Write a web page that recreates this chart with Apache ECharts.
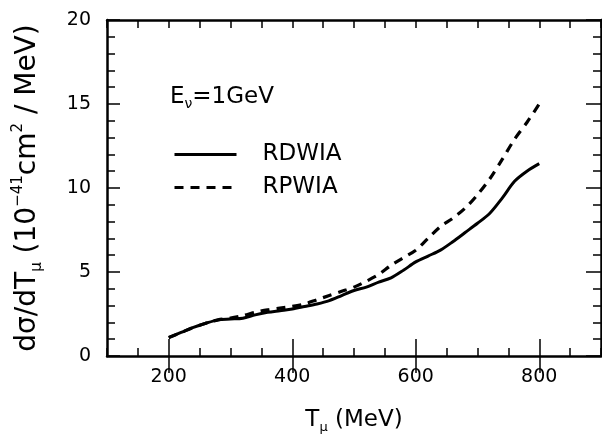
<!DOCTYPE html>
<html>
<head>
<meta charset="utf-8">
<script src="https://cdn.jsdelivr.net/npm/echarts@6/dist/echarts.min.js"></script>
<style>
  html, body { margin: 0; padding: 0; background: #fff; }
  #chart { width: 602px; height: 446px; }
</style>
</head>
<body>
<div id="chart"></div>
<script>
// Muon kinetic energy grid (MeV)
const tMu = [200, 220, 240, 260, 280, 300, 320, 340, 360, 380, 400, 420, 440, 460, 480, 500,
             520, 540, 560, 580, 600, 620, 640, 660, 680, 700, 720, 740, 760, 780, 800];
// dσ/dTμ in units of 1e-41 cm^2 / MeV
const rdwia = [1.1, 1.4, 1.7, 1.95, 2.15, 2.2, 2.25, 2.45, 2.6, 2.7, 2.8, 2.95, 3.1, 3.3, 3.6, 3.9,
               4.1, 4.4, 4.65, 5.1, 5.6, 5.95, 6.3, 6.8, 7.35, 7.9, 8.5, 9.4, 10.4, 11.0, 11.45];
const rpwia = [1.1, 1.4, 1.7, 1.95, 2.15, 2.25, 2.4, 2.6, 2.75, 2.85, 2.95, 3.1, 3.35, 3.6, 3.85, 4.1,
               4.45, 4.85, 5.4, 5.85, 6.3, 7.0, 7.7, 8.2, 8.8, 9.6, 10.55, 11.7, 12.9, 13.9, 15.0];
const xMajorTicks = [200, 400, 600, 800];
const yMajorTicks = [0, 5, 10, 15, 20];

const FONT = 'DejaVu Sans';
const INK = '#000';

function frameAxis(extra) {
  return Object.assign({
    type: 'value',
    axisLine: { show: true, onZero: false, lineStyle: { color: INK, width: 2.5 } },
    axisTick: { show: true, inside: true, length: 8, lineStyle: { color: INK, width: 1.5 } },
    axisLabel: { show: false },
    splitLine: { show: false }
  }, extra);
}

const chart = echarts.init(document.getElementById('chart'), null, { renderer: 'canvas' });

chart.setOption({
  backgroundColor: '#fff',
  animation: false,
  grid: { left: 107, right: 1, top: 20, bottom: 90, containLabel: false },
  xAxis: [
    frameAxis({ position: 'bottom', min: 100, max: 900, interval: 50 }),
    frameAxis({
      position: 'bottom', min: 100, max: 900,
      axisLine: { show: false },
      axisTick: { show: true, inside: true, length: 17, customValues: xMajorTicks,
                  lineStyle: { color: INK, width: 1.5 } },
      axisLabel: { show: true, customValues: xMajorTicks, margin: 12,
                   fontFamily: FONT, fontSize: 19, color: INK },
      name: '{m|T}{s|μ}{m| (MeV)}',
      nameLocation: 'middle',
      nameGap: 50,
      nameTextStyle: {
        rich: {
          m: { fontFamily: FONT, fontSize: 23, color: INK, lineHeight: 28 },
          s: { fontFamily: FONT, fontSize: 13, color: INK, verticalAlign: 'bottom', lineHeight: 28 }
        }
      }
    }),
    frameAxis({ position: 'top', min: 100, max: 900, interval: 50 }),
    frameAxis({
      position: 'top', min: 100, max: 900,
      axisLine: { show: false },
      axisTick: { show: true, inside: true, length: 17, customValues: xMajorTicks,
                  lineStyle: { color: INK, width: 1.5 } }
    })
  ],
  yAxis: [
    frameAxis({ position: 'left', min: 0, max: 20, interval: 1 }),
    frameAxis({
      position: 'left', min: 0, max: 20, interval: 5,
      axisLine: { show: false },
      axisTick: { show: true, inside: true, length: 13, lineStyle: { color: INK, width: 1.5 } },
      axisLabel: { show: true, customValues: yMajorTicks, margin: 16,
                   fontFamily: FONT, fontSize: 19, color: INK },
      name: '{m|dσ/dT}{s|μ}{m| (10}{p|−41}{m|cm}{p|2}{m| / MeV)}',
      nameLocation: 'middle',
      nameRotate: 90,
      nameGap: 62,
      nameTextStyle: {
        rich: {
          m: { fontFamily: FONT, fontSize: 28, color: INK, lineHeight: 34 },
          s: { fontFamily: FONT, fontSize: 15, color: INK, verticalAlign: 'bottom', lineHeight: 34 },
          p: { fontFamily: FONT, fontSize: 15, color: INK, verticalAlign: 'top', lineHeight: 34 }
        }
      }
    }),
    frameAxis({ position: 'right', min: 0, max: 20, interval: 1 }),
    frameAxis({
      position: 'right', min: 0, max: 20, interval: 5,
      axisLine: { show: false },
      axisTick: { show: true, inside: true, length: 15, lineStyle: { color: INK, width: 1.5 } }
    })
  ],
  legend: {
    show: true,
    orient: 'vertical',
    left: 168,
    top: 138,
    itemWidth: 62,
    itemHeight: 14,
    itemGap: 10,
    itemStyle: { opacity: 0 },
    lineStyle: { width: 3 },
    textStyle: { fontFamily: FONT, fontSize: 23, color: INK, lineHeight: 23, padding: [0, 0, 0, 21] },
    data: ['RDWIA', 'RPWIA']
  },
  graphic: [
    {
      type: 'text',
      left: 170,
      top: 86,
      style: {
        text: '{m|E}{s|ν}{m|=1GeV}',
        rich: {
          m: { fontFamily: FONT, fontSize: 23, fill: INK, lineHeight: 28 },
          s: { fontFamily: FONT, fontSize: 14, fill: INK, verticalAlign: 'bottom', lineHeight: 28 }
        }
      }
    }
  ],
  series: [
    {
      name: 'RDWIA',
      type: 'line',
      xAxisIndex: 0,
      yAxisIndex: 0,
      data: tMu.map((t, i) => [t, rdwia[i]]),
      smooth: 0.3,
      showSymbol: false,
      symbol: 'none',
      lineStyle: { color: INK, width: 3, type: 'solid' },
      itemStyle: { color: INK }
    },
    {
      name: 'RPWIA',
      type: 'line',
      xAxisIndex: 0,
      yAxisIndex: 0,
      data: tMu.map((t, i) => [t, rpwia[i]]),
      smooth: 0.3,
      showSymbol: false,
      symbol: 'none',
      lineStyle: { color: INK, width: 3.2, type: [9, 7] },
      itemStyle: { color: INK }
    }
  ]
});
</script>
</body>
</html>
